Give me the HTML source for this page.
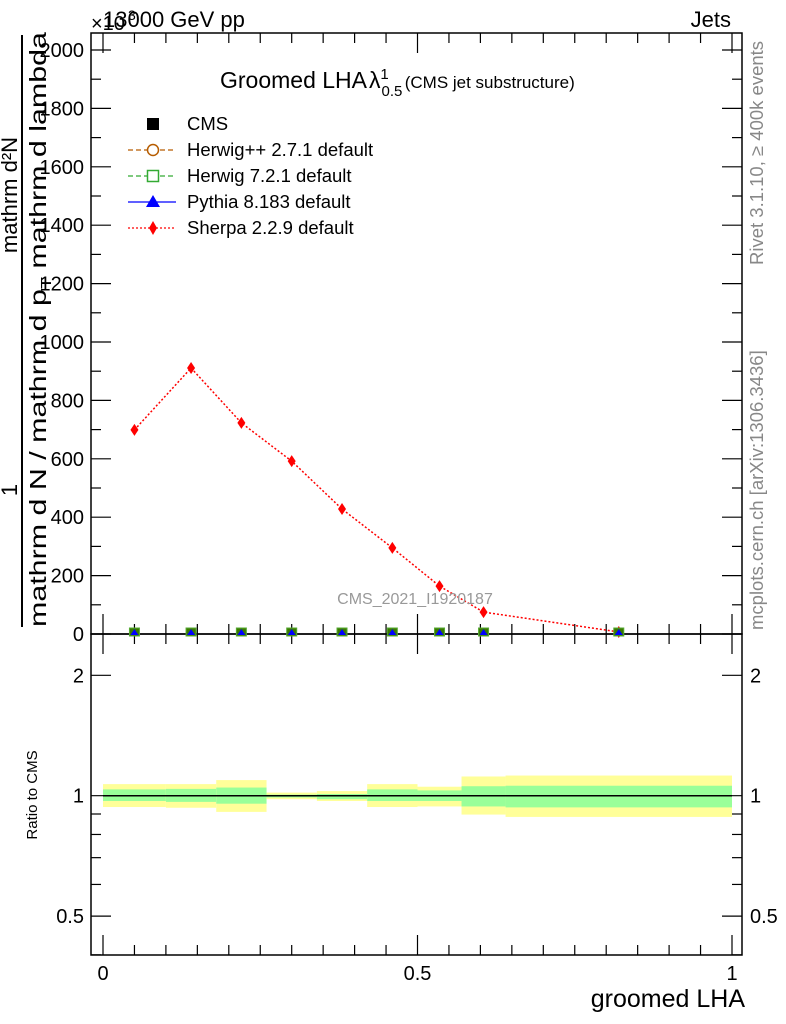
<!DOCTYPE html>
<html><head><meta charset="utf-8"><style>
body{margin:0;background:#fff;}
svg{display:block;font-family:"Liberation Sans",sans-serif;}
</style></head><body>
<svg id="chart" width="786" height="1024" viewBox="0 0 786 1024" xmlns="http://www.w3.org/2000/svg">
<g id="main"></g>
</svg>
<script>
const binEdges=[0,0.1,0.18,0.26,0.34,0.42,0.5,0.57,0.64,1.0];
const sherpaX=[0.05,0.14,0.22,0.30,0.38,0.46,0.535,0.605,0.82];
const sherpaY=[699,911,723,592,428,295,164,75,7];
const cmsY=[0,0,0,0,0,0,0,0,0];
const totUp=[1.069,1.069,1.094,1.018,1.027,1.069,1.053,1.117,1.123];
const totDn=[0.937,0.933,0.911,0.980,0.970,0.937,0.940,0.897,0.885];
const statUp=[1.037,1.040,1.048,1.006,1.010,1.037,1.031,1.056,1.059];
const statDn=[0.970,0.965,0.955,0.990,0.980,0.970,0.970,0.940,0.935];
const yTicks=[0,200,400,600,800,1000,1200,1400,1600,1800,2000];
const rTicks=[0.5,1,2];
const xTicks=[0,0.5,1];

const NS="http://www.w3.org/2000/svg";
const g=document.getElementById('main');
const L=91,R=742,T=33,B=634,RB=955;
const X=v=>103+v*629;
const Y=v=>634-v*0.292;
const RY=v=>795.7-Math.log10(v)*400;
function mk(tag,attrs,parent){const e=document.createElementNS(NS,tag);for(const k in attrs)e.setAttribute(k,attrs[k]);(parent||g).appendChild(e);return e;}
function txt(s,attrs){const e=mk('text',attrs);e.textContent=s;return e;}

for(let i=0;i<binEdges.length-1;i++){
  const x0=X(binEdges[i]),x1=X(binEdges[i+1]);
  const y=mk('rect',{x:x0,y:RY(totUp[i]),width:x1-x0,height:RY(totDn[i])-RY(totUp[i]),fill:'#ffff99'});
  
  
  const gr=mk('rect',{x:x0,y:RY(statUp[i]),width:x1-x0,height:RY(statDn[i])-RY(statUp[i]),fill:'#99ff99'});
  
  
}
const one=mk('line',{x1:X(0),x2:X(1),y1:RY(1),y2:RY(1),stroke:'#000','stroke-width':1.5});



const f1=mk('rect',{x:L,y:T,width:R-L,height:B-T,fill:'none',stroke:'#000','stroke-width':1.5});


const f2=mk('rect',{x:L,y:B,width:R-L,height:RB-B,fill:'none',stroke:'#000','stroke-width':1.5});



for(let v=0;v<=2050;v+=100){
  const maj=v%200===0,len=maj?20:10;
  mk('line',{x1:L,x2:L+len,y1:Y(v),y2:Y(v),stroke:'#000','stroke-width':1.2});
  mk('line',{x1:R,x2:R-len,y1:Y(v),y2:Y(v),stroke:'#000','stroke-width':1.2});
}
yTicks.forEach(v=>{const t=txt(String(v),{x:84,y:Y(v)+7,'font-size':20,'text-anchor':'end'});
  
  });
[0.4,0.5,0.6,0.7,0.8,0.9,1,2].forEach(v=>{const maj=rTicks.includes(v),len=maj?20:10;
  mk('line',{x1:L,x2:L+len,y1:RY(v),y2:RY(v),stroke:'#000','stroke-width':1.2});
  mk('line',{x1:R,x2:R-len,y1:RY(v),y2:RY(v),stroke:'#000','stroke-width':1.2});});
rTicks.forEach(v=>{const s=String(v);
  const a=txt(s,{x:84,y:RY(v)+7,'font-size':20,'text-anchor':'end'});
  
  
  const b=txt(s,{x:750,y:RY(v)+7,'font-size':20});
  
  });
for(let k=0;k<=20;k++){const v=k*0.05,maj=k%10===0,len=maj?20:10;
  mk('line',{x1:X(v),x2:X(v),y1:T,y2:T+len,stroke:'#000','stroke-width':1.2});
  mk('line',{x1:X(v),x2:X(v),y1:B-len,y2:B+len,stroke:'#000','stroke-width':1.2});
  mk('line',{x1:X(v),x2:X(v),y1:RB,y2:RB-len,stroke:'#000','stroke-width':1.2});}
xTicks.forEach(v=>{const t=txt(String(v),{x:X(v),y:980,'font-size':20,'text-anchor':'middle'});
  
  });

const pl=mk('polyline',{points:sherpaX.map((x,i)=>X(x)+','+Y(sherpaY[i])).join(' '),fill:'none',stroke:'#f00','stroke-width':1.5,'stroke-dasharray':'2,2'});


sherpaX.forEach((x,i)=>{const cx=X(x),cy=Y(sherpaY[i]);
  const d=mk('polygon',{points:`${cx},${cy-6} ${cx+4},${cy} ${cx},${cy+6} ${cx-4},${cy}`,fill:'#f00'});
  
  
  const cx2=X(x),cy2=Y(cmsY[i]);
  const s=mk('rect',{x:cx2-5,y:cy2-6,width:10,height:8,fill:'#3a7a00',stroke:'#5a3'});
  
  
  const tr=mk('polygon',{points:`${cx2},${cy2-5} ${cx2+4},${cy2+1} ${cx2-4},${cy2+1}`,fill:'#00f'});
  
  
});

function T2(s,attrs,name){const t=txt(s,attrs);return t;}
T2('×10',{x:91,y:30,'font-size':20},'exponent-label');
T2('3',{x:128,y:20,'font-size':14},'exponent-power');
T2('13000 GeV pp',{x:103,y:27,'font-size':22},'energy-label');
T2('Jets',{x:731,y:27,'font-size':22,'text-anchor':'end'},'process-label');
const ti=T2('',{x:220,y:88,'font-size':23},'plot-title');
ti.innerHTML='Groomed LHA<tspan dx="2">λ</tspan><tspan font-size="15" dy="8" dx="1">0.5</tspan><tspan font-size="15" dy="-17" dx="-22">1</tspan><tspan font-size="17" dy="9" dx="16">(CMS jet substructure)</tspan>';
T2('CMS_2021_I1920187',{x:415,y:604,'font-size':16,fill:'#999','text-anchor':'middle'},'analysis-id');
T2('groomed LHA',{x:745,y:1007,'font-size':25,'text-anchor':'end'},'x-axis-title');
T2('Ratio to CMS',{x:0,y:0,'font-size':15,transform:'translate(37,795) rotate(-90)','text-anchor':'middle'},'ratio-axis-title');
T2('Rivet 3.1.10, ≥ 400k events',{x:0,y:0,'font-size':18.5,fill:'#888',transform:'translate(763,265) rotate(-90)'},'rivet-label');
T2('mcplots.cern.ch [arXiv:1306.3436]',{x:0,y:0,'font-size':18.5,fill:'#888',transform:'translate(763,630) rotate(-90)'},'mcplots-label');
const fl=mk('line',{x1:22,x2:22,y1:35,y2:627,stroke:'#000','stroke-width':2});


T2('1',{x:0,y:0,'font-size':22,transform:'translate(17,490) rotate(-90)','text-anchor':'middle'},'y-title-one');
T2('mathrm d²N',{x:0,y:0,'font-size':22,transform:'translate(17,195) rotate(-90)','text-anchor':'middle'},'y-title-numerator');
const den=T2('',{x:0,y:0,'font-size':23,transform:'translate(46,627) rotate(-90)'},'y-title-denominator');
den.innerHTML='mathrm d N / mathrm d p<tspan font-size="15" dy="5">T</tspan><tspan dy="-5"> mathrm d lambda</tspan>';
den.setAttribute('textLength','595');
den.setAttribute('lengthAdjust','spacingAndGlyphs');

const leg=[['CMS','sq','#000','none'],['Herwig++ 2.7.1 default','circ','#b65c00','5,3'],['Herwig 7.2.1 default','box','#3a3','5,3'],['Pythia 8.183 default','tri','#00f','none'],['Sherpa 2.2.9 default','dia','#f00','2,2']];
leg.forEach((l,i)=>{const y=124+i*26;
  const lg=mk('g',{});
  
  
  if(l[1]!=='sq')mk('line',{x1:128,x2:176,y1:y,y2:y,stroke:l[2],'stroke-width':1.3,'stroke-dasharray':l[3]},lg);
  if(l[1]==='sq')mk('rect',{x:147,y:y-6,width:12,height:12,fill:'#000'},lg);
  if(l[1]==='circ')mk('circle',{cx:153,cy:y,r:5.5,fill:'#fff',stroke:l[2],'stroke-width':1.5},lg);
  if(l[1]==='box')mk('rect',{x:147.5,y:y-5.5,width:11,height:11,fill:'#fff',stroke:l[2],'stroke-width':1.5},lg);
  if(l[1]==='tri')mk('polygon',{points:`153,${y-7} 160,${y+5} 146,${y+5}`,fill:l[2]},lg);
  if(l[1]==='dia')mk('polygon',{points:`153,${y-7} 157,${y} 153,${y+7} 149,${y}`,fill:l[2]},lg);
  const t=mk('text',{x:187,y:y+6,'font-size':18.5},lg);t.textContent=l[0];
});
</script>
</body></html>
